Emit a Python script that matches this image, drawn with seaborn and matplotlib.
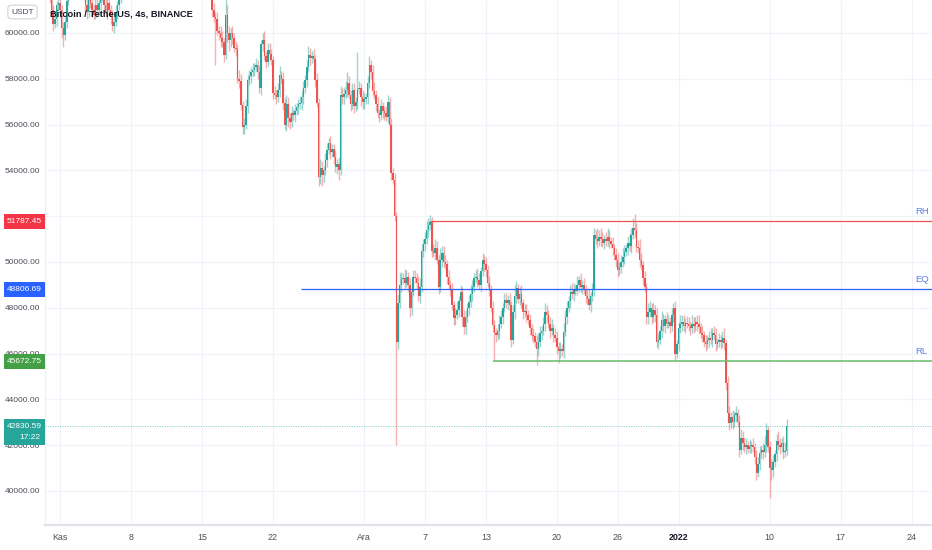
import matplotlib
matplotlib.use("Agg")
import matplotlib.pyplot as plt
import matplotlib.dates as mdates
import matplotlib.transforms as mtransforms
from matplotlib.patches import Rectangle
import numpy as np
import pandas as pd
import seaborn as sns

# BTC/USDT 4h candles, closes in thousands of USDT, one row per day (Oct 30 starts at 12:00)
first_open = 61.7
closes = [
    [61.9, 62.1, 61.8],                      # Oct 30
    [61.6, 61.0, 60.4, 60.6, 61.2, 61.3],    # Oct 31
    [61.0, 60.2, 59.9, 60.5, 61.4, 61.8],    # Nov 1
    [62.5, 63.2, 63.8, 63.5, 63.0, 63.0],
    [62.8, 62.6, 62.0, 61.2, 60.9, 61.6],
    [61.3, 61.0, 60.8, 61.2, 61.0, 61.3],
    [61.6, 61.9, 61.2, 60.9, 61.3, 61.0],    # Nov 5
    [60.7, 60.3, 60.5, 60.9, 61.2, 61.5],
    [61.8, 62.3, 62.6, 63.0, 63.2, 63.3],
    [63.5, 64.5, 65.5, 66.5, 67.0, 67.5],
    [67.8, 67.5, 67.2, 66.8, 67.0, 66.9],
    [67.0, 68.0, 68.6, 66.5, 65.2, 64.9],    # Nov 10
    [64.8, 65.0, 64.9, 64.6, 64.8, 64.9],
    [64.8, 64.2, 63.4, 64.0, 64.2, 64.1],
    [64.5, 64.3, 64.0, 64.2, 64.5, 64.4],
    [64.8, 64.6, 64.9, 65.2, 65.4, 65.5],
    [65.6, 65.9, 66.2, 65.8, 64.4, 63.6],    # Nov 15
    [61.0, 60.7, 60.6, 60.1, 60.0, 59.8],
    [59.6, 59.05, 60.8, 60.0, 59.7, 60.0],
    [59.8, 59.35, 59.3, 58.0, 57.9, 56.85],
    [55.9, 56.0, 56.8, 57.95, 58.1, 58.3],
    [58.4, 58.5, 58.6, 58.3, 57.6, 59.5],    # Nov 20
    [59.7, 59.0, 58.75, 59.25, 59.1, 58.8],
    [57.4, 57.3, 57.2, 57.5, 58.15, 58.0],
    [56.95, 56.0, 56.9, 56.3, 56.1, 56.5],
    [56.4, 56.6, 56.75, 56.9, 56.95, 57.2],
    [57.6, 57.95, 58.5, 59.05, 58.9, 59.0],  # Nov 25
    [58.85, 57.95, 56.95, 53.7, 54.1, 53.8],
    [54.0, 54.45, 54.9, 55.2, 54.8, 54.95],
    [54.6, 54.15, 54.3, 54.0, 57.3, 57.2],
    [57.35, 57.5, 57.8, 57.3, 56.9, 57.5],
    [56.8, 57.0, 57.55, 57.6, 57.2, 57.0],   # Nov 30
    [57.1, 57.2, 57.8, 58.6, 58.3, 57.45],   # Dec 1
    [57.3, 56.9, 56.5, 56.4, 56.8, 56.6],
    [56.5, 56.35, 57.0, 56.0, 53.9, 53.6],
    [52.0, 46.5, 48.2, 49.0, 49.25, 49.3],
    [49.1, 49.35, 49.0, 48.0, 48.7, 49.35],  # Dec 5
    [49.3, 49.1, 48.5, 48.9, 50.5, 50.8],
    [51.0, 51.4, 51.6, 51.75, 50.5, 50.4],
    [50.6, 50.1, 48.9, 50.1, 50.4, 50.0],
    [49.9, 49.35, 49.0, 48.8, 48.1, 47.55],
    [47.7, 47.9, 48.3, 48.7, 47.6, 47.15],   # Dec 10
    [47.6, 48.0, 48.25, 48.6, 48.9, 49.3],
    [49.35, 49.2, 49.0, 49.6, 50.1, 49.9],
    [49.65, 49.1, 48.8, 48.0, 47.25, 46.9],
    [46.8, 47.0, 47.3, 47.6, 48.0, 48.35],
    [48.2, 48.35, 48.1, 46.6, 47.8, 48.5],   # Dec 15
    [48.85, 48.4, 48.6, 48.2, 47.8, 47.85],
    [47.7, 47.45, 47.1, 46.8, 46.75, 46.5],
    [46.2, 46.5, 46.9, 47.0, 47.3, 47.8],
    [47.7, 47.3, 47.0, 47.1, 46.8, 46.7],
    [46.3, 46.1, 46.2, 46.1, 46.95, 47.6],   # Dec 20
    [48.0, 48.3, 48.7, 48.6, 48.8, 48.75],
    [49.0, 49.2, 48.9, 49.0, 48.8, 48.5],
    [48.4, 48.1, 48.5, 48.8, 51.2, 51.0],
    [50.9, 51.1, 51.0, 50.85, 51.0, 50.9],
    [51.1, 50.9, 50.8, 50.6, 50.3, 50.1],    # Dec 25
    [49.65, 49.8, 50.0, 50.2, 50.45, 50.6],
    [50.85, 50.7, 51.2, 51.5, 51.4, 50.65],
    [50.6, 50.1, 49.85, 49.3, 48.9, 47.6],
    [47.8, 48.0, 47.6, 47.9, 47.7, 46.5],
    [46.6, 47.0, 47.45, 47.2, 47.5, 47.3],   # Dec 30
    [47.4, 47.2, 47.7, 48.0, 46.0, 46.4],
    [47.1, 47.3, 47.4, 47.2, 47.35, 47.3],   # Jan 1
    [47.2, 47.1, 47.3, 47.2, 47.4, 47.3],
    [47.15, 46.9, 46.8, 46.5, 46.4, 46.6],
    [46.7, 46.6, 46.9, 46.8, 46.4, 46.5],
    [46.6, 46.5, 46.7, 46.45, 44.7, 43.4],   # Jan 5
    [42.95, 43.25, 43.0, 43.3, 43.4, 43.0],
    [41.8, 42.3, 42.1, 41.9, 42.0, 41.85],
    [41.95, 42.0, 41.9, 41.5, 40.8, 41.2],
    [41.65, 41.8, 41.7, 42.0, 42.65, 41.9],
    [41.0, 40.9, 41.25, 41.6, 42.2, 42.0],   # Jan 10
    [41.9, 42.1, 41.7, 41.75, 42.83],
]

# wick lengths beyond the body, in hundreds of USDT
up_wick = [
    [3, 2, 2],
    [2, 3, 2, 3, 2, 3],
    [3, 2, 3, 2, 3, 4],    # Nov 1
    [4, 3, 5, 3, 2, 3],
    [3, 2, 3, 2, 3, 2],
    [3, 2, 2, 3, 4, 2],
    [3, 4, 2, 3, 2, 3],
    [2, 3, 2, 3, 2, 3],
    [3, 3, 2, 4, 3, 2],
    [3, 4, 3, 5, 4, 3],
    [4, 3, 2, 3, 4, 3],
    [3, 5, 3, 4, 3, 2],    # Nov 10
    [3, 2, 3, 2, 3, 2],
    [3, 2, 4, 3, 2, 3],
    [2, 3, 2, 3, 2, 3],
    [3, 2, 3, 4, 2, 3],
    [3, 4, 3, 2, 3, 2],
    [6, 3, 2, 3, 2, 3],    # Nov 16
    [3, 2, 7, 4, 3, 2],
    [3, 2, 3, 2, 4, 3],
    [2, 3, 3, 2, 3, 2],
    [3, 2, 3, 2, 3, 2],    # Nov 20
    [3, 4, 2, 3, 3, 2],
    [2, 3, 2, 3, 4, 2],
    [3, 2, 4, 3, 2, 3],
    [2, 3, 2, 2, 3, 3],
    [3, 2, 3, 4, 3, 2],    # Nov 25
    [3, 2, 3, 2, 4, 3],
    [2, 3, 3, 2, 3, 2],
    [2, 3, 2, 3, 4, 3],
    [3, 4, 5, 3, 2, 3],
    [3, 2, 16, 3, 2, 3],   # Nov 30
    [3, 2, 3, 4, 2, 3],    # Dec 1
    [4, 2, 3, 2, 3, 2],
    [2, 3, 3, 2, 3, 2],
    [3, 2, 4, 5, 3, 2],
    [4, 3, 2, 3, 4, 3],    # Dec 5
    [3, 2, 3, 4, 3, 2],
    [3, 4, 3, 3, 2, 3],
    [4, 3, 2, 5, 3, 3],
    [3, 2, 3, 2, 3, 2],
    [3, 4, 2, 3, 2, 3],    # Dec 10
    [3, 2, 3, 4, 3, 2],
    [3, 4, 3, 2, 3, 2],
    [3, 2, 3, 2, 3, 2],
    [2, 3, 4, 3, 2, 3],
    [3, 2, 3, 2, 3, 5],    # Dec 15
    [3, 2, 3, 4, 2, 3],
    [3, 2, 3, 2, 3, 2],
    [3, 4, 3, 2, 3, 4],
    [3, 2, 3, 4, 2, 3],
    [3, 2, 3, 2, 4, 3],    # Dec 20
    [3, 2, 3, 4, 3, 2],
    [4, 2, 3, 2, 3, 2],
    [3, 4, 2, 3, 3, 2],
    [5, 3, 4, 3, 2, 3],
    [4, 3, 2, 3, 2, 3],    # Dec 25
    [3, 2, 3, 4, 3, 2],
    [3, 4, 3, 4, 6, 3],
    [3, 4, 3, 2, 3, 2],
    [4, 3, 2, 3, 2, 3],
    [3, 2, 4, 3, 2, 3],    # Dec 30
    [3, 2, 3, 2, 3, 2],
    [3, 4, 3, 3, 2, 3],    # Jan 1
    [3, 2, 4, 3, 2, 3],
    [4, 2, 3, 2, 3, 2],
    [3, 4, 2, 3, 3, 2],
    [3, 2, 3, 4, 2, 3],    # Jan 5
    [3, 2, 3, 2, 3, 2],
    [3, 4, 3, 2, 3, 2],
    [3, 2, 3, 2, 3, 3],
    [3, 2, 3, 4, 3, 2],
    [3, 4, 3, 2, 3, 4],    # Jan 10
    [3, 2, 3, 4, 3],
]

down_wick = [
    [2, 3, 2],
    [3, 4, 3, 2, 3, 2],
    [3, 4, 5, 2, 3, 2],    # Nov 1
    [3, 2, 3, 2, 3, 2],
    [3, 2, 3, 2, 3, 2],
    [2, 3, 2, 2, 3, 2],
    [3, 2, 3, 2, 3, 2],
    [3, 2, 3, 2, 3, 2],
    [2, 3, 2, 3, 2, 3],
    [3, 2, 3, 2, 3, 2],
    [3, 4, 3, 2, 3, 2],
    [3, 2, 3, 4, 3, 2],    # Nov 10
    [2, 3, 2, 3, 2, 3],
    [3, 2, 4, 3, 2, 3],
    [2, 3, 2, 3, 2, 3],
    [3, 2, 3, 2, 3, 2],
    [3, 2, 3, 2, 4, 3],
    [3, 2, 20, 2, 3, 4],   # Nov 16
    [2, 3, 2, 4, 5, 3],
    [3, 2, 3, 2, 3, 2],
    [3, 3, 2, 3, 2, 3],
    [2, 3, 2, 3, 2, 3],    # Nov 20
    [3, 2, 3, 2, 3, 2],
    [3, 2, 3, 2, 3, 2],
    [3, 2, 3, 4, 3, 2],
    [2, 3, 2, 3, 2, 3],
    [3, 2, 3, 2, 3, 2],    # Nov 25
    [2, 3, 2, 4, 3, 5],
    [3, 2, 3, 2, 3, 2],
    [3, 2, 3, 4, 2, 3],
    [3, 2, 3, 2, 3, 2],
    [3, 2, 3, 2, 4, 3],    # Nov 30
    [3, 2, 3, 2, 3, 2],    # Dec 1
    [2, 3, 2, 3, 2, 3],
    [3, 2, 3, 2, 3, 2],
    [2, 45, 3, 2, 3, 2],
    [3, 2, 3, 4, 3, 2],    # Dec 5
    [2, 3, 2, 3, 2, 3],
    [3, 2, 3, 2, 3, 2],
    [3, 2, 3, 2, 3, 2],
    [2, 3, 2, 3, 2, 3],
    [3, 2, 3, 2, 4, 3],    # Dec 10
    [3, 2, 3, 2, 3, 2],
    [2, 3, 2, 3, 2, 3],
    [3, 2, 3, 2, 3, 12],
    [3, 2, 3, 2, 3, 2],
    [2, 3, 2, 3, 2, 3],    # Dec 15
    [3, 2, 3, 2, 3, 2],
    [3, 2, 3, 2, 3, 2],
    [7, 3, 2, 3, 2, 3],
    [3, 2, 3, 2, 3, 2],
    [3, 5, 3, 2, 3, 2],    # Dec 20
    [3, 2, 3, 2, 3, 2],
    [2, 3, 2, 3, 2, 3],
    [3, 2, 3, 2, 3, 2],
    [3, 2, 3, 2, 3, 2],
    [2, 3, 2, 3, 2, 3],    # Dec 25
    [3, 2, 3, 2, 3, 2],
    [3, 2, 3, 2, 3, 2],
    [2, 3, 2, 3, 2, 3],
    [3, 2, 3, 2, 3, 2],
    [3, 2, 3, 2, 3, 2],    # Dec 30
    [2, 3, 2, 3, 3, 2],
    [3, 2, 3, 2, 3, 2],    # Jan 1
    [2, 3, 2, 3, 2, 3],
    [3, 2, 3, 2, 3, 2],
    [3, 2, 3, 2, 3, 2],
    [2, 3, 2, 3, 3, 4],    # Jan 5
    [3, 2, 3, 2, 3, 2],
    [3, 2, 3, 2, 3, 2],
    [2, 3, 2, 3, 3, 2],
    [3, 2, 3, 2, 3, 2],
    [13, 4, 3, 2, 3, 2],   # Jan 10
    [3, 2, 3, 2, 2],
]

start_time = "2021-10-30 12:00"

rh_price, eq_price, rl_price = 51787.45, 48806.69, 45672.75
last_price = 42830.59
rh_start, eq_start, rl_start = "2021-12-07 12:00", "2021-11-24 18:00", "2021-12-13 16:00"

price_ticks = list(range(40000, 60001, 2000))
date_ticks = ["2021-11-01", "2021-11-08", "2021-11-15", "2021-11-22", "2021-12-01",
              "2021-12-07", "2021-12-13", "2021-12-20", "2021-12-26", "2022-01-01",
              "2022-01-10", "2022-01-17", "2022-01-24"]
date_labels = ["Kas", "8", "15", "22", "Ara", "7", "13", "20", "26", "2022", "10", "17", "24"]

UP, DOWN = "#26a69a", "#ef5350"
TXT = "#4a4e59"
FONT = "Liberation Sans"

# Prepare data
c = np.concatenate([np.asarray(r, float) for r in closes]) * 1000
uw = np.concatenate([np.asarray(r, float) for r in up_wick]) * 100
dw = np.concatenate([np.asarray(r, float) for r in down_wick]) * 100
df = pd.DataFrame({"time": pd.date_range(start_time, periods=len(c), freq="4h"), "close": c})
df["open"] = np.r_[first_open * 1000, c[:-1]]
df["high"] = df[["open", "close"]].max(axis=1) + uw
df["low"] = df[["open", "close"]].min(axis=1) - dw
df["up"] = df["close"] >= df["open"]

sns.set_theme(style="white")
plt.rcParams["font.family"] = [FONT, "DejaVu Sans"]
fig = plt.figure(figsize=(9.32, 5.5), dpi=100)
ax = fig.add_axes([45 / 932, 25 / 550, 887 / 932, 525 / 550])

x0 = mdates.date2num(pd.Timestamp("2021-11-01")) - 1.48
x_right = x0 + 887 / 10.14
ax.set_xlim(x0, x_right)
ymin, ymax = 38515, 61440
ax.set_ylim(ymin, ymax)
per_px = (ymax - ymin) / 525

# candles
x = mdates.date2num(df["time"])
col = np.where(df["up"], UP, DOWN)
ax.vlines(x, df["low"], df["high"], colors=col, lw=1.0, alpha=0.45, zorder=3)
body = np.maximum((df["close"] - df["open"]).abs(), 45)
ax.bar(x, body, bottom=df[["open", "close"]].min(axis=1), width=0.15, color=col, linewidth=0, zorder=4)

# levels
ax.hlines(rh_price, mdates.date2num(pd.Timestamp(rh_start)), x_right, color="#ef5350", lw=0.9, zorder=5)
ax.hlines(eq_price, mdates.date2num(pd.Timestamp(eq_start)), x_right, color="#2962ff", lw=0.9, zorder=5)
ax.hlines(rl_price, mdates.date2num(pd.Timestamp(rl_start)), x_right, color="#66bb6a", lw=1.4, alpha=0.8, zorder=5)
ax.axhline(last_price, color=UP, lw=0.7, ls=(0, (1, 1.5)), alpha=0.6, zorder=5)

lvl_trans = mtransforms.blended_transform_factory(ax.transAxes, ax.transData)
for name, price in [("RH", rh_price), ("EQ", eq_price), ("RL", rl_price)]:
    ax.text(0.9885, price + 10 * per_px, name, transform=lvl_trans, ha="center", va="center",
            color="#5b7ee5", fontsize=6.8, zorder=6)

# axes styling
ax.set_yticks(price_ticks)
ax.set_yticklabels([f"{v:.2f}" for v in price_ticks])
ax.set_xticks([mdates.date2num(pd.Timestamp(d)) for d in date_ticks])
ax.set_xticklabels(date_labels)
ax.grid(True, color="#f0f3fa", lw=0.8, zorder=0)
ax.tick_params(axis="y", length=0, pad=3.5, colors=TXT, labelsize=6.0)
ax.tick_params(axis="x", length=0, pad=6, colors=TXT, labelsize=6.4)
for i, lab in enumerate(ax.get_xticklabels()):
    if date_labels[i] == "2022":
        lab.set_fontweight("bold")
        lab.set_color("#131722")
for s in ["top", "right"]:
    ax.spines[s].set_visible(False)
ax.spines["bottom"].set_color("#e0e3eb")
ax.spines["bottom"].set_linewidth(1.6)
ax.spines["left"].set_color("#eceff4")
ax.spines["left"].set_linewidth(0.8)

# price labels on the scale
trans = mtransforms.blended_transform_factory(fig.transFigure, ax.transData)
for price, color in [(rh_price, "#f23645"), (eq_price, "#2962ff"), (rl_price, "#43a047")]:
    fig.add_artist(Rectangle((4 / 932, price - 7.5 * per_px), 41 / 932, 15 * per_px, transform=trans,
                             facecolor=color, edgecolor="none", zorder=10))
    fig.text(24.5 / 932, price, f"{price:.2f}", transform=trans, ha="center", va="center",
             color="white", fontsize=6.0, zorder=11)
fig.add_artist(Rectangle((4 / 932, last_price - 19 * per_px), 41 / 932, 26.5 * per_px, transform=trans,
                         facecolor=UP, edgecolor="none", zorder=10))
fig.text(24.5 / 932, last_price, f"{last_price:.2f}", transform=trans, ha="center", va="center",
         color="white", fontsize=6.0, zorder=11)
fig.text(40 / 932, last_price - 11.5 * per_px, "17:22", transform=trans, ha="right", va="center",
         color="white", fontsize=6.0, zorder=11)

# header
fig.text(22.5 / 932, 1 - 12 / 550, "USDT", ha="center", va="center", color=TXT, fontsize=6.0,
         bbox=dict(boxstyle="round,pad=0.4,rounding_size=0.4", fc="white", ec="#d1d4dc", lw=0.8))
fig.text(50 / 932, 1 - 14 / 550, "Bitcoin / TetherUS, 4s, BINANCE", ha="left", va="center",
         color="#131722", fontsize=6.7, fontweight="bold")

fig.savefig("out.png", dpi=100)
